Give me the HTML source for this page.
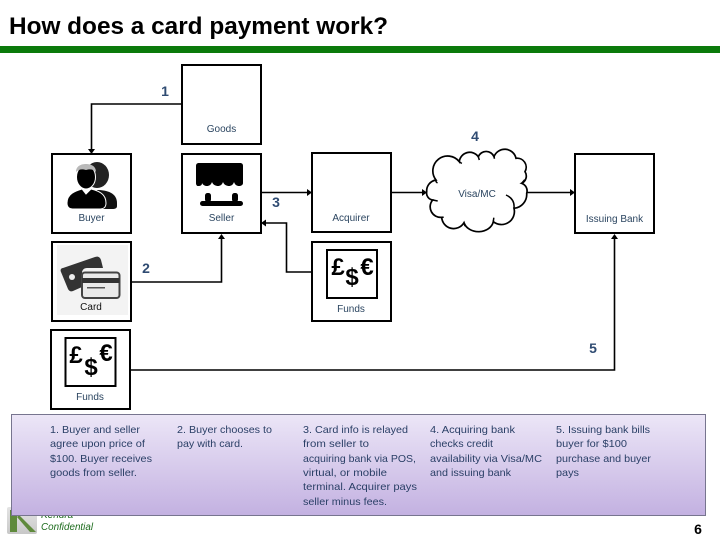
<!DOCTYPE html>
<html><head><meta charset="utf-8"><style>
html,body{margin:0;padding:0;background:#fff}
svg{display:block}
text{font-family:"Liberation Sans",sans-serif}
.l{font-size:10px;fill:#2b4560;text-anchor:middle}
.n{font-size:14px;font-weight:bold;fill:#2f4b72;text-anchor:middle}
.p{font-size:10.5px;fill:#2a3f66}
.b{fill:#fff;stroke:#000;stroke-width:2}
.c{fill:none;stroke:#000;stroke-width:1.6}
.s{font-weight:bold;fill:#000;font-size:24px;text-anchor:middle}
</style></head><body>
<svg width="720" height="540" viewBox="0 0 720 540" xmlns="http://www.w3.org/2000/svg">
<defs>
<linearGradient id="g" x1="0" y1="0" x2="0" y2="1"><stop offset="0" stop-color="#ece6f7"/><stop offset="1" stop-color="#c3b1e1"/></linearGradient>
<linearGradient id="lg" x1="0" y1="0" x2="0" y2="1"><stop offset="0" stop-color="#e4e4e4"/><stop offset="1" stop-color="#c8c8c8"/></linearGradient>
</defs>
<rect width="720" height="540" fill="#fff"/>
<text x="9" y="34" font-size="24" font-weight="bold" fill="#000" textLength="379" lengthAdjust="spacingAndGlyphs">How does a card payment work?</text>
<rect x="0" y="46" width="720" height="7" fill="#0b7a0b"/>

<!-- boxes -->
<rect class="b" x="182" y="65" width="79" height="79"/>
<rect class="b" x="52" y="154" width="79" height="79"/>
<rect class="b" x="182" y="154" width="79" height="79"/>
<rect class="b" x="312" y="153" width="79" height="79"/>
<rect class="b" x="575" y="154" width="79" height="79"/>
<rect class="b" x="52" y="242" width="79" height="79"/>
<rect class="b" x="312" y="242" width="79" height="79"/>
<rect class="b" x="51" y="330" width="79" height="79"/>
<rect x="57" y="245" width="71" height="70" fill="#f3f3f3"/>
<rect x="327" y="250" width="50" height="48" fill="#fff" stroke="#000" stroke-width="2"/>
<rect x="65.500" y="338" width="50" height="48" fill="#fff" stroke="#000" stroke-width="2"/>

<!-- connectors -->
<path class="c" d="M182 104H91.500V150"/>
<path d="M88 149h7l-3.500 5z" fill="#000"/>
<path class="c" d="M261 192.500H308"/>
<path d="M307 189v7l5-3.500z" fill="#000"/>
<path class="c" d="M391 192.500H424"/>
<path d="M422 189v7l5-3.500z" fill="#000"/>
<path class="c" d="M527 192.500H571"/>
<path d="M570 189v7l5-3.500z" fill="#000"/>
<path class="c" d="M312 272H286.500V223H265"/>
<path d="M266 219.500v7l-5-3.500z" fill="#000"/>
<path class="c" d="M131 282H221.500V238"/>
<path d="M218 239h7l-3.500-5z" fill="#000"/>
<path class="c" d="M130 370H614.500V238"/>
<path d="M611 239h7l-3.500-5z" fill="#000"/>

<!-- cloud -->
<path d="M426.700 191.700A11 11 0 0 1 436 180A14 14 0 0 1 459.300 161.700A10.500 10.500 0 0 1 478.300 156.700A8.500 8.500 0 0 1 494 156.700A11.500 11.500 0 0 1 516 158.300A9 9 0 0 1 525 171.700A8 8 0 0 1 521.700 183.300A8 8 0 0 1 526.700 193.300A14 14 0 0 1 514 208.300A13 13 0 0 1 493.300 221.700A15 12 0 0 1 464 222.700A12 12 0 0 1 441.700 217.300A10.500 10.500 0 0 1 432.700 200A7 7 0 0 1 426.700 191.700Z" fill="#fff" stroke="#000" stroke-width="1.700"/>
<path d="M436 180q-.5 2 1.500 3M459.300 161.700l2.500 1.800M478.300 156.700l1 3.300M494 156.700l.5 2M521.700 183.300l3-3.500M506 195q9 4 8 13.300M493.300 221.700l.5-4M464 222.700l1 3.500M441.700 217.300l2 0M432.700 200l5 1" fill="none" stroke="#000" stroke-width="1.500"/>

<!-- buyer icon -->
<ellipse cx="97" cy="175" rx="12" ry="13" fill="#222"/>
<path d="M97 190c10 0 20 3 20 13v3c0 3-3 3-6 3H90z" fill="#111"/>
<path d="M67 203c0-9 8-12 15-14l4 5 5-5c8 2 15 5 15 14 0 5-3 6-7 6H74c-4 0-7-1-7-6z" fill="#000" stroke="#fff" stroke-width="1"/>
<ellipse cx="86" cy="177" rx="9.500" ry="12" fill="#000" stroke="#fff" stroke-width="1"/>
<path d="M76 172c0-6 5-8 10-8s10 2 10 8c-3-3-6-3-10-2-4-1-7-1-10 2z" fill="#b9b9b9"/>

<!-- seller icon -->
<path d="M203 163h37c2 0 3 1 3 3v17c0 2-2 3-4 3s-4-1-5-4c-1 3-3 4-5 4s-5-1-6-4c-1 3-3 4-5 4s-5-1-6-4c-1 3-3 4-5 4s-4-1-5-3c0 2-1 3-4 3-1 0-2-1-2-3v-17c0-2 1-3 3-3z" fill="#000"/>
<rect x="205" y="193" width="6" height="9" rx="2.500" fill="#000"/>
<rect x="232" y="193" width="6" height="9" rx="2.500" fill="#000"/>
<rect x="200" y="201" width="43" height="5" rx="2.500" fill="#000"/>

<!-- card icon -->
<path d="M63 268l32-11c3-1 5 0 6 3l2 8H87c-3 0-5 2-5 5v14l-9 4c-2 1-4 0-5-2l-7-17c-1-2 0-4 2-4z" fill="#333"/>
<circle cx="72" cy="277" r="3" fill="#eee"/>
<rect x="82" y="272.500" width="37.500" height="25.500" rx="3" fill="#eaeaea" stroke="#444" stroke-width="2"/>
<rect x="82" y="278" width="37.500" height="5" fill="#333"/>
<rect x="87" y="287" width="18" height="1.500" fill="#555"/>

<!-- currency -->
<text class="s" x="338" y="275">£</text>
<text class="s" x="352" y="285">$</text>
<text class="s" x="367" y="275">€</text>
<text class="s" x="76" y="363">£</text>
<text class="s" x="91" y="375">$</text>
<text class="s" x="106" y="361">€</text>

<!-- labels -->
<text class="l" x="221.500" y="132">Goods</text>
<text class="l" x="91.500" y="221">Buyer</text>
<text class="l" x="221.500" y="221">Seller</text>
<text class="l" x="351" y="221">Acquirer</text>
<text class="l" x="477" y="197">Visa/MC</text>
<text class="l" x="614.500" y="222">Issuing Bank</text>
<text class="l" x="91" y="310" style="fill:#111">Card</text>
<text class="l" x="351" y="312">Funds</text>
<text class="l" x="90" y="400">Funds</text>

<text class="n" x="165" y="96">1</text>
<text class="n" x="146" y="273">2</text>
<text class="n" x="276" y="207">3</text>
<text class="n" x="475" y="141">4</text>
<text class="n" x="593" y="353">5</text>
<text x="698" y="534" font-size="14" font-weight="bold" fill="#000" text-anchor="middle">6</text>

<!-- logo + confidential -->
<rect x="7" y="507" width="30" height="27" rx="2" fill="url(#lg)"/>
<path d="M10 510h7v22h-7zM17 517l13 15h6l-17-17z" fill="#5f8a3c"/>
<text x="41" y="518" font-size="10" font-style="italic" fill="#1c6b1c">Kendra</text>
<text x="41" y="530" font-size="10" font-style="italic" fill="#1c6b1c" textLength="52" lengthAdjust="spacingAndGlyphs">Confidential</text>

<!-- panel -->
<rect x="11.500" y="414.500" width="694" height="101" fill="url(#g)" stroke="#77758f" stroke-width="1"/>

<g class="p">
<text class="p" x="50" y="433" textLength="90" lengthAdjust="spacingAndGlyphs">1. Buyer and seller</text>
<text class="p" x="50" y="447" textLength="95" lengthAdjust="spacingAndGlyphs">agree upon price of</text>
<text class="p" x="50" y="462" textLength="102" lengthAdjust="spacingAndGlyphs">$100. Buyer receives</text>
<text class="p" x="50" y="476" textLength="87" lengthAdjust="spacingAndGlyphs">goods from seller.</text>

<text class="p" x="177" y="433" textLength="95" lengthAdjust="spacingAndGlyphs">2. Buyer chooses to</text>
<text class="p" x="177" y="447" textLength="66" lengthAdjust="spacingAndGlyphs">pay with card.</text>

<text class="p" x="303" y="433" textLength="105" lengthAdjust="spacingAndGlyphs">3. Card info is relayed</text>
<text class="p" x="303" y="447" textLength="66" lengthAdjust="spacingAndGlyphs">from seller to</text>
<text class="p" x="303" y="462" textLength="113" lengthAdjust="spacingAndGlyphs">acquiring bank via POS,</text>
<text class="p" x="303" y="476" textLength="84" lengthAdjust="spacingAndGlyphs">virtual, or mobile</text>
<text class="p" x="303" y="490" textLength="114" lengthAdjust="spacingAndGlyphs">terminal. Acquirer pays</text>
<text class="p" x="303" y="505" textLength="84" lengthAdjust="spacingAndGlyphs">seller minus fees.</text>

<text class="p" x="430" y="433" textLength="85" lengthAdjust="spacingAndGlyphs">4. Acquiring bank</text>
<text class="p" x="430" y="447" textLength="63" lengthAdjust="spacingAndGlyphs">checks credit</text>
<text class="p" x="430" y="462" textLength="112" lengthAdjust="spacingAndGlyphs">availability via Visa/MC</text>
<text class="p" x="430" y="476" textLength="81" lengthAdjust="spacingAndGlyphs">and issuing bank</text>

<text class="p" x="556" y="433" textLength="94" lengthAdjust="spacingAndGlyphs">5. Issuing bank bills</text>
<text class="p" x="556" y="447" textLength="71" lengthAdjust="spacingAndGlyphs">buyer for $100</text>
<text class="p" x="556" y="462" textLength="95" lengthAdjust="spacingAndGlyphs">purchase and buyer</text>
<text class="p" x="556" y="476" textLength="23" lengthAdjust="spacingAndGlyphs">pays</text>
</g>
</svg>
</body></html>
